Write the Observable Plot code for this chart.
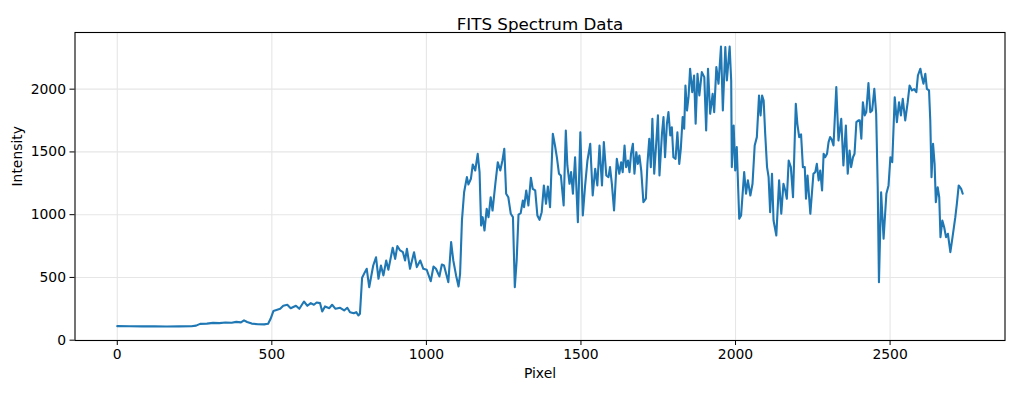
<!DOCTYPE html>
<html>
<head>
<meta charset="utf-8">
<script src="https://cdn.jsdelivr.net/npm/d3@7"></script>
<script src="https://cdn.jsdelivr.net/npm/@observablehq/plot@0.6"></script>
<style>
  html, body { margin: 0; padding: 0; background: #fff; }
</style>
</head>
<body>
<div id="chart"></div>
<script>
const titleText = "FITS Spectrum Data";
const xLabel = "Pixel";
const yLabel = "Intensity";
const xTicks = [0, 500, 1000, 1500, 2000, 2500];
const yTicks = [0, 500, 1000, 1500, 2000];

const pixels = [0,40,80,120,160,200,240,255,268,290,310,330,350,370,385,400,410,420,435,455,475,488,496,505,515,527,537,550,561,578,589,604,615,626,636,645,656,663,672,686,695,706,721,734,744,753,765,773,780,785,792,801,807,815,823,828,837,845,853,861,870,877,891,899,906,915,924,931,937,947,960,969,980,990,1001,1014,1023,1031,1042,1050,1057,1071,1080,1087,1096,1104,1109,1115,1122,1131,1136,1144,1150,1158,1166,1172,1177,1182,1188,1195,1201,1208,1214,1223,1231,1239,1246,1252,1258,1265,1273,1280,1286,1292,1298,1305,1312,1316,1323,1330,1338,1344,1352,1359,1366,1373,1380,1387,1393,1400,1409,1416,1422,1429,1435,1444,1451,1456,1463,1468,1474,1481,1490,1498,1506,1513,1521,1530,1538,1546,1553,1560,1568,1574,1582,1589,1594,1600,1607,1616,1624,1630,1635,1641,1646,1652,1657,1662,1668,1673,1679,1684,1689,1695,1702,1710,1715,1721,1726,1731,1737,1743,1749,1754,1762,1767,1772,1778,1783,1789,1794,1799,1806,1812,1818,1823,1829,1834,1838,1843,1848,1853,1860,1866,1871,1877,1883,1891,1899,1905,1911,1918,1926,1931,1938,1945,1953,1959,1967,1972,1981,1986,1988,1994,1999,2004,2012,2018,2028,2034,2040,2048,2055,2062,2069,2076,2081,2086,2091,2096,2102,2107,2112,2118,2123,2132,2141,2148,2155,2161,2166,2172,2179,2186,2195,2200,2206,2212,2218,2224,2228,2233,2242,2247,2252,2258,2263,2269,2274,2280,2285,2290,2296,2301,2306,2311,2317,2326,2333,2342,2349,2357,2363,2369,2374,2380,2385,2391,2398,2402,2407,2412,2418,2423,2430,2436,2442,2449,2455,2460,2464,2471,2479,2488,2495,2501,2507,2515,2522,2529,2535,2541,2549,2557,2563,2571,2578,2585,2590,2598,2603,2608,2614,2619,2626,2630,2634,2639,2644,2648,2654,2659,2663,2669,2675,2681,2687,2695,2702,2711,2716,2722,2730,2735];

const intensities = [112,111,110,110,109,110,111,116,130,132,138,136,141,139,146,142,158,145,132,127,126,131,170,232,240,250,274,282,255,274,250,308,274,295,282,300,295,229,269,255,282,250,258,237,258,223,215,223,197,210,497,542,569,422,529,595,661,489,595,516,635,561,736,648,750,715,701,635,728,569,701,582,635,569,561,470,587,569,508,603,595,462,781,635,516,428,529,954,1179,1299,1241,1286,1400,1352,1485,1339,914,980,874,1047,980,1139,1033,1246,1418,1352,1432,1525,1167,1139,1007,980,422,635,1001,1012,1113,1060,1193,1073,1294,1206,1193,994,959,1020,1233,1087,1225,1060,1645,1551,1458,1326,1312,1073,1671,1392,1246,1339,1167,1458,940,1657,994,1219,1432,1565,1153,1366,1233,1551,1233,1578,1312,1299,1379,1246,1033,1445,1326,1418,1339,1551,1379,1432,1339,1485,1565,1326,1498,1405,1472,1352,1100,1127,1405,1605,1379,1764,1326,1551,1791,1312,1645,1777,1458,1724,1817,1631,1697,1458,1445,1657,1405,1525,1777,1685,2029,1830,1936,2163,1976,2109,1724,2123,1950,2136,2096,1671,2163,1804,1963,1817,2176,2043,2340,1830,2335,2069,2340,2069,1379,1711,1352,1538,967,994,1339,1167,1273,1153,1246,1551,1618,1950,1791,1950,1910,1645,1379,1299,1020,1326,954,834,1273,1007,1246,1193,1127,1432,1379,1139,1884,1724,1618,1640,1379,1380,1127,1312,1007,1167,1326,1339,1405,1273,1352,1193,1485,1458,1485,1578,1618,1600,1551,2016,1591,1764,1392,1711,1326,1511,1379,1458,1485,1737,1751,1751,1605,1896,1791,1817,2048,1817,1830,2003,1804,1219,462,1179,808,1167,1233,1458,1418,1936,1737,1896,1791,1923,1751,1896,2029,1990,2000,1976,2109,2163,2096,2043,2123,2003,1990,1751,1299,1565,1405,1100,1219,1139,821,954,900,821,848,701,821,980,1087,1233,1206,1167];

const data = pixels.map((p, i) => ({pixel: p, intensity: intensities[i]}));

// matplotlib-style 5% margins
function pad(ext) { const r = ext[1] - ext[0]; return [ext[0] - 0.05 * r, ext[1] + 0.05 * r]; }
const xDomain = pad(d3.extent(pixels));
const yDomain = pad(d3.extent(intensities));
const plain = d => String(d);

const chart = Plot.plot({
  width: 1014,
  height: 393,
  marginLeft: 74.5,
  marginRight: 9.5,
  marginTop: 32,
  marginBottom: 53,
  style: {fontFamily: "'DejaVu Sans', sans-serif", fontSize: "13.9px", color: "#000", background: "#fff"},
  x: {domain: xDomain, label: null},
  y: {domain: yDomain, label: null},
  marks: [
    Plot.gridX(xTicks, {stroke: "#e6e6e6", strokeOpacity: 1, strokeWidth: 1.1}),
    Plot.gridY(yTicks, {stroke: "#e6e6e6", strokeOpacity: 1, strokeWidth: 1.1}),
    Plot.line(data, {x: "pixel", y: "intensity", stroke: "#1f77b4", strokeWidth: 2.1, strokeLinejoin: "round"}),
    Plot.frame({stroke: "#000", strokeWidth: 1.1}),
    Plot.axisX({ticks: xTicks, tickFormat: plain, tickSize: 5, tickPadding: 4, label: null, fontSize: 13.9, stroke: "#000"}),
    Plot.axisY({ticks: yTicks, tickFormat: plain, tickSize: 5, tickPadding: 4, label: null, fontSize: 13.9, stroke: "#000"}),
    Plot.text([titleText], {frameAnchor: "top", dy: -14, fontSize: 16.7, fill: "#000"}),
    Plot.text([xLabel], {frameAnchor: "bottom", dy: 37, fontSize: 13.9, fill: "#000"}),
    Plot.text([yLabel], {frameAnchor: "left", dx: -57, rotate: -90, fontSize: 13.9, fill: "#000"})
  ]
});
document.getElementById("chart").appendChild(chart);
</script>
</body>
</html>
